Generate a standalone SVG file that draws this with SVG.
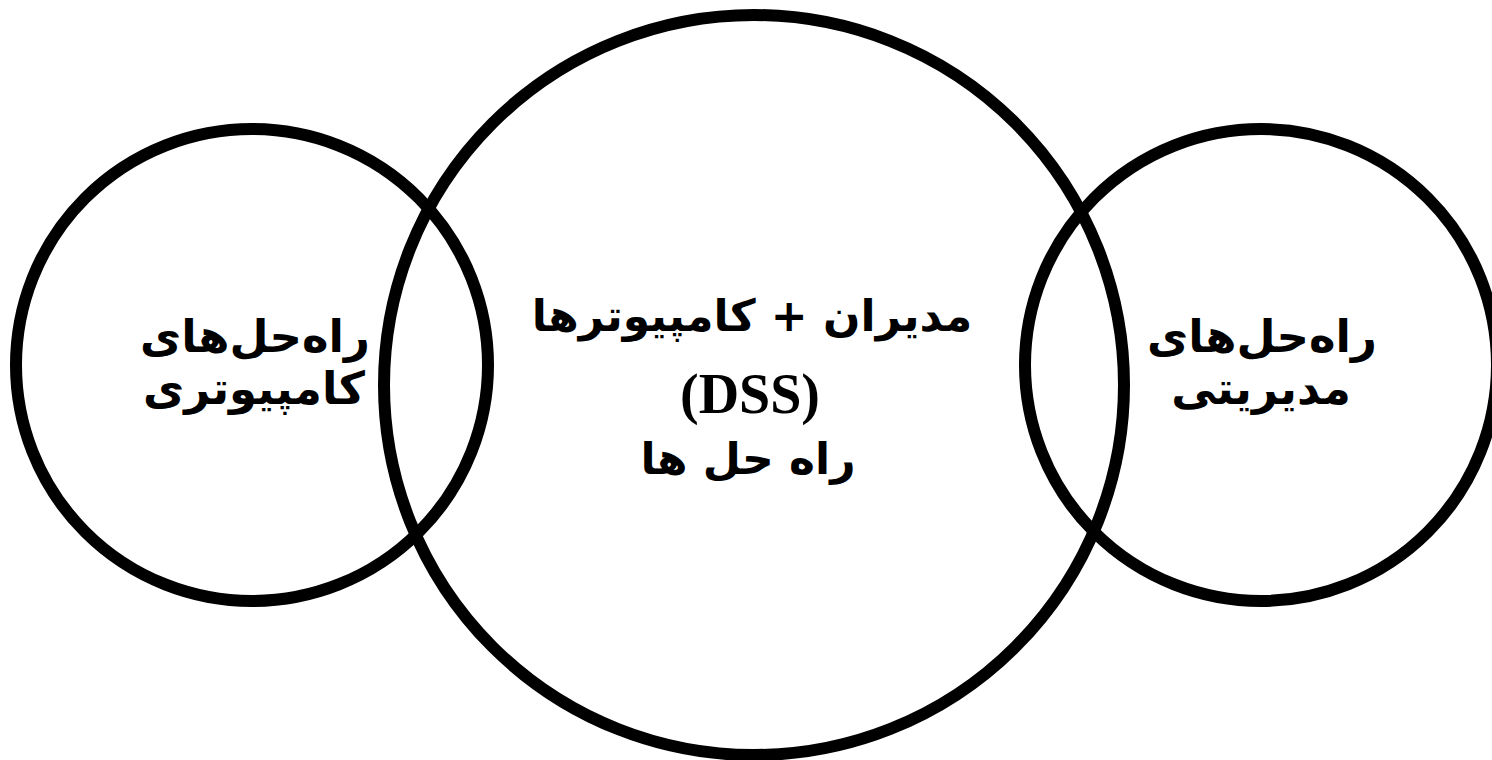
<svg xmlns="http://www.w3.org/2000/svg" width="1492" height="760" viewBox="0 0 1492 760">
<style>
.ring{fill:none;stroke:#000;stroke-width:12}
.fa{font-family:"DejaVu Sans","Noto Sans",sans-serif;font-weight:bold;fill:#000;text-anchor:middle}
.en{font-family:"Liberation Serif","Times New Roman",serif;font-weight:bold;fill:#000;text-anchor:middle}
</style>
<rect width="1492" height="760" fill="#fff"/>
<g id="connectors"></g>
<g id="node-left">
<circle class="ring" cx="252" cy="365" r="236"/>
<text class="fa" x="255" y="352" font-size="45" direction="rtl">راه‌حل‌های</text>
<text class="fa" x="254" y="404" font-size="45" direction="rtl">کامپیوتری</text>
</g>
<g id="node-center">
<circle class="ring" cx="754" cy="385" r="370"/>
<text class="fa" x="752" y="331" font-size="44" direction="rtl">مدیران + کامپیوترها</text>
<text class="en" x="750" y="413" font-size="56">(DSS)</text>
<text class="fa" x="748" y="474" font-size="44" direction="rtl">راه حل ها</text>
</g>
<g id="node-right">
<circle class="ring" cx="1261" cy="365" r="236"/>
<text class="fa" x="1262" y="352" font-size="45" direction="rtl">راه‌حل‌های</text>
<text class="fa" x="1261" y="404" font-size="45" direction="rtl">مدیریتی</text>
</g>
</svg>
